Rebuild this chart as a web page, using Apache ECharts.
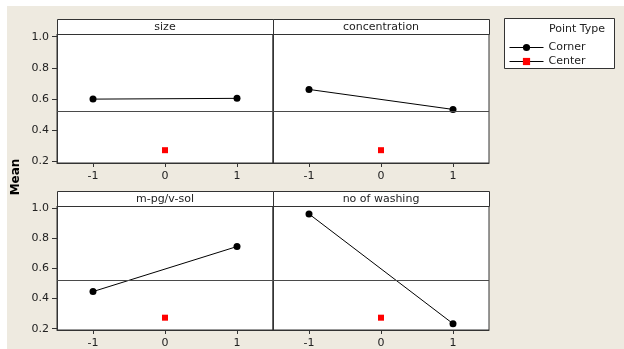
<!DOCTYPE html>
<html>
<head>
<meta charset="utf-8">
<script src="https://cdn.jsdelivr.net/npm/echarts@6/dist/echarts.min.js"></script>
<style>
  html, body { margin: 0; padding: 0; background: #ffffff; }
  #chart { width: 624px; height: 349px; }
</style>
</head>
<body>
<div id="chart"></div>
<script>
// Main effects plot for Mean: corner means at the -1 / +1 levels, center point at 0
const factors = ['size', 'concentration', 'm-pg/v-sol', 'no of washing'];
const cornerLow = [0.600, 0.662, 0.447, 0.964];
const cornerHigh = [0.605, 0.534, 0.747, 0.233];
const centerMean = [0.273, 0.273, 0.273, 0.273];
const overallMean = 0.522;
const levels = [-1, 0, 1];
const yTicks = [0.2, 0.4, 0.6, 0.8, 1.0];

const FONT = 'DejaVu Sans';
const FRAME = '#333333';

// panel layout (2 x 2)
const colLeft = [57, 273];
const rowTop = [34, 206];
const panelW = 216;
const panelH = 129;
const stripH = 15;

const grids = [], xAxes = [], yAxes = [], series = [], graphics = [];

// white page margin at top and left
graphics.push({ type: 'rect', shape: { x: 0, y: 0, width: 624, height: 6 }, style: { fill: '#ffffff' }, silent: true });
graphics.push({ type: 'rect', shape: { x: 0, y: 0, width: 7, height: 349 }, style: { fill: '#ffffff' }, silent: true });

factors.forEach((name, i) => {
  const c = i % 2, r = Math.floor(i / 2);
  const left = colLeft[c], top = rowTop[r];
  grids.push({
    left: left, top: top, width: panelW, height: panelH,
    show: true, backgroundColor: '#ffffff', borderColor: FRAME, borderWidth: 1
  });
  xAxes.push({
    gridIndex: i, type: 'value', min: -1.5, max: 1.5,
    axisLine: { show: true, onZero: false, lineStyle: { color: FRAME, width: 1 } },
    axisTick: { show: true, customValues: levels, length: 4, lineStyle: { color: FRAME } },
    axisLabel: { show: true, customValues: levels, margin: 8, color: '#222', fontFamily: FONT, fontSize: 11 },
    splitLine: { show: false }
  });
  yAxes.push({
    gridIndex: i, type: 'value', min: 0.191, max: 1.017,
    axisLine: { show: true, onZero: false, lineStyle: { color: FRAME, width: 1 } },
    axisTick: { show: c === 0, customValues: yTicks, length: 5, lineStyle: { color: FRAME } },
    axisLabel: {
      show: c === 0, customValues: yTicks, margin: 8, color: '#222', fontFamily: FONT, fontSize: 11,
      formatter: v => v.toFixed(1)
    },
    splitLine: { show: false }
  });
  series.push({
    name: 'Corner', type: 'line', xAxisIndex: i, yAxisIndex: i,
    data: [[-1, cornerLow[i]], [1, cornerHigh[i]]],
    symbol: 'circle', symbolSize: 7,
    itemStyle: { color: '#000000' },
    lineStyle: { color: '#000000', width: 1 },
    animation: false,
    markLine: {
      silent: true, symbol: 'none', label: { show: false },
      lineStyle: { color: '#4a4a4a', width: 1, type: 'solid' },
      data: [{ yAxis: overallMean }], animation: false
    }
  });
  series.push({
    name: 'Center', type: 'line', xAxisIndex: i, yAxisIndex: i,
    data: [[0, centerMean[i]]],
    symbol: 'rect', symbolSize: 6,
    itemStyle: { color: '#ff0000' },
    lineStyle: { color: '#000000', width: 1 },
    animation: false
  });
  // factor strip above each panel
  graphics.push({
    type: 'rect',
    shape: { x: left + 0.5, y: top - stripH + 0.5, width: panelW, height: stripH },
    style: { fill: '#ffffff', stroke: FRAME, lineWidth: 1 },
    silent: true
  });
  graphics.push({
    type: 'text', x: left + panelW / 2, y: top - stripH / 2 + 0.5,
    style: { text: name, fill: '#222', font: '11px "' + FONT + '"', align: 'center', verticalAlign: 'middle' },
    silent: true
  });
});

// shared y axis title
graphics.push({
  type: 'text', x: 16, y: 177, rotation: Math.PI / 2,
  style: { text: 'Mean', fill: '#000', font: 'bold 12px "' + FONT + '"', align: 'center', verticalAlign: 'middle' },
  silent: true
});

// legend box with title
graphics.push({
  type: 'rect', shape: { x: 504.5, y: 18.5, width: 110, height: 50 },
  style: { fill: '#ffffff', stroke: FRAME, lineWidth: 1 }, silent: true
});
graphics.push({
  type: 'text', x: 549, y: 29,
  style: { text: 'Point Type', fill: '#222', font: '11px "' + FONT + '"', align: 'left', verticalAlign: 'middle' },
  silent: true
});

const chart = echarts.init(document.getElementById('chart'), null, { renderer: 'canvas' });
chart.setOption({
  backgroundColor: '#eeeae0',
  animation: false,
  grid: grids,
  xAxis: xAxes,
  yAxis: yAxes,
  series: series,
  legend: {
    data: ['Corner', 'Center'],
    orient: 'vertical', left: 504, top: 37,
    itemWidth: 34, itemHeight: 9, itemGap: 3,
    lineStyle: { width: 1 },
    textStyle: { color: '#222', fontFamily: FONT, fontSize: 11 },
    selectedMode: false
  },
  graphic: graphics
});
</script>
</body>
</html>
